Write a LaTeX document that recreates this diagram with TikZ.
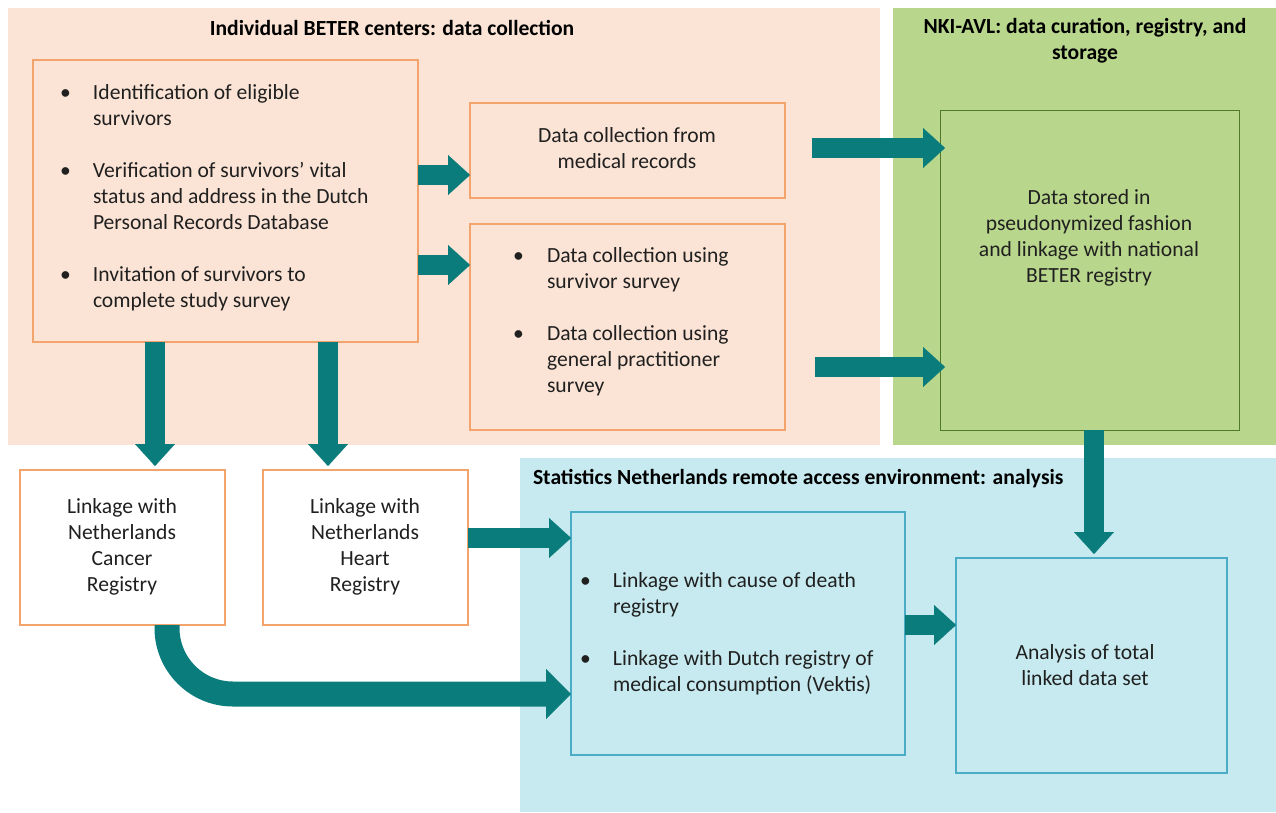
\documentclass[tikz,border=0pt]{standalone}
\usepackage{fontspec}
\setmainfont{Carlito}
\usetikzlibrary{arrows.meta}
\definecolor{peach}{HTML}{FBE4D5}
\definecolor{oborder}{HTML}{F2A46C}
\definecolor{greenbg}{HTML}{B9D78C}
\definecolor{gborder}{HTML}{4E7A2C}
\definecolor{bluebg}{HTML}{C6EAEF}
\definecolor{bborder}{HTML}{4BACC6}
\definecolor{tealarrow}{HTML}{0B7C7C}
\definecolor{txt}{HTML}{202020}
\begin{document}
\begin{tikzpicture}[x=1pt,y=-1pt,
  every node/.style={font=\fontsize{21.6}{26}\selectfont, text=txt, outer sep=0pt},
  obox/.style={draw=oborder, line width=1.2pt, inner sep=0pt},
  gbox/.style={draw=gborder, line width=1pt, fill=greenbg, inner sep=0pt},
  bbox/.style={draw=bborder, line width=1.2pt, fill=bluebg, inner sep=0pt},
  ttl/.style={font=\bfseries\fontsize{21.6}{26}\selectfont, text=black},
  ctext/.style={align=center, inner sep=0pt},
  ltext/.style={anchor=base west, inner sep=0pt},
  fat/.style={draw=tealarrow, line width=20pt, -{Triangle[length=22pt,width=40pt,line width=0.1pt]}},
  fatter/.style={draw=tealarrow, line width=25pt, rounded corners=66pt, -{Triangle[length=25pt,width=50pt,line width=0.1pt]}}
]
\useasboundingbox (0,0) rectangle (1276,812);
% background regions
\fill[peach] (8,8) rectangle (880,445);
\fill[greenbg] (893,8) rectangle (1276,445);
\fill[bluebg] (520,458) rectangle (1276,812);

% titles
\node[ttl] (t1) at (392,28) {Individual BETER centers: data collection};
\node[ttl, align=center] (t2) at (1085,41) {NKI-AVL: data curation, registry, and\\storage};
\node[ttl, anchor=west, inner sep=0pt] (t3) at (533,479) {Statistics Netherlands remote access environment: analysis};

% boxes
\node[obox, fill=peach, minimum width=385pt, minimum height=282pt] (big) at (225.5,201) {};
\node[obox, fill=peach, minimum width=315pt, minimum height=95pt] (med) at (627.5,150.5) {};
\node[obox, fill=peach, minimum width=315pt, minimum height=206pt] (surv) at (627.5,327) {};
\node[gbox, minimum width=299pt, minimum height=320pt] (store) at (1089.5,270) {};
\node[obox, fill=white, minimum width=205pt, minimum height=155pt] (cancer) at (122.5,547.5) {};
\node[obox, fill=white, minimum width=205pt, minimum height=155pt] (heart) at (365.5,547.5) {};
\node[bbox, minimum width=334pt, minimum height=243pt] (mid) at (738,633.5) {};
\node[bbox, minimum width=271pt, minimum height=215pt] (ana) at (1091.5,665.5) {};

% texts
\node[ltext] (bigtext) at (60,99) {\begin{tabular}[t]{@{}p{33pt}@{}l@{}}
\textbullet & Identification of eligible\\
 & survivors\\[26pt]
\textbullet & Verification of survivors’ vital\\
 & status and address in the Dutch\\
 & Personal Records Database\\[26pt]
\textbullet & Invitation of survivors to\\
 & complete study survey
\end{tabular}};
\node[ctext] (medtext) at (627,148) {Data collection from\\medical records};
\node[ltext] (survtext) at (513,262) {\begin{tabular}[t]{@{}p{34pt}@{}l@{}}
\textbullet & Data collection using\\
 & survivor survey\\[26pt]
\textbullet & Data collection using\\
 & general practitioner\\
 & survey
\end{tabular}};
\node[ctext] (storetext) at (1089,238) {Data stored in\\pseudonymized fashion\\and linkage with national\\BETER registry};
\node[ctext] (cancertext) at (122,547) {Linkage with\\Netherlands\\Cancer\\Registry};
\node[ctext] (hearttext) at (365,547) {Linkage with\\Netherlands\\Heart\\Registry};
\node[ltext] (midtext) at (580,587) {\begin{tabular}[t]{@{}p{33pt}@{}l@{}}
\textbullet & Linkage with cause of death\\
 & registry\\[26pt]
\textbullet & Linkage with Dutch registry of\\
 & medical consumption (Vektis)
\end{tabular}};
\node[ctext] (anatext) at (1085,665) {Analysis of total\\linked data set};

% helper coordinates
\coordinate (ya1) at (0,175);
\coordinate (ya2) at (0,265);
\coordinate (ya3) at (0,148);
\coordinate (ya4) at (0,367);
\coordinate (ya8) at (0,538);
\coordinate (ya10) at (0,625);
\coordinate (xa5) at (1094,0);
\coordinate (xa6) at (155,0);
\coordinate (xa7) at (328,0);
\coordinate (s3) at (812,148);
\coordinate (s4) at (815,367);
\coordinate (c9) at (167,0);
\coordinate (y9) at (0,694);

% arrows
\draw[fat] (big.east |- ya1) -- (med.west |- ya1);
\draw[fat] (big.east |- ya2) -- (surv.west |- ya2);
\draw[fat] (s3) -- ([xshift=5pt]store.west |- ya3);
\draw[fat] (s4) -- ([xshift=5pt]store.west |- ya4);
\draw[fat] (store.south -| xa5) -- ([yshift=4pt]ana.north -| xa5);
\draw[fat] (big.south -| xa6) -- ([yshift=4pt]cancer.north -| xa6);
\draw[fat] (big.south -| xa7) -- ([yshift=4pt]heart.north -| xa7);
\draw[fat] (heart.east |- ya8) -- (mid.west |- ya8);
\draw[fat] (mid.east |- ya10) -- (ana.west |- ya10);
\draw[fatter] (cancer.south -| c9) |- (mid.west |- y9);
\end{tikzpicture}
\end{document}
